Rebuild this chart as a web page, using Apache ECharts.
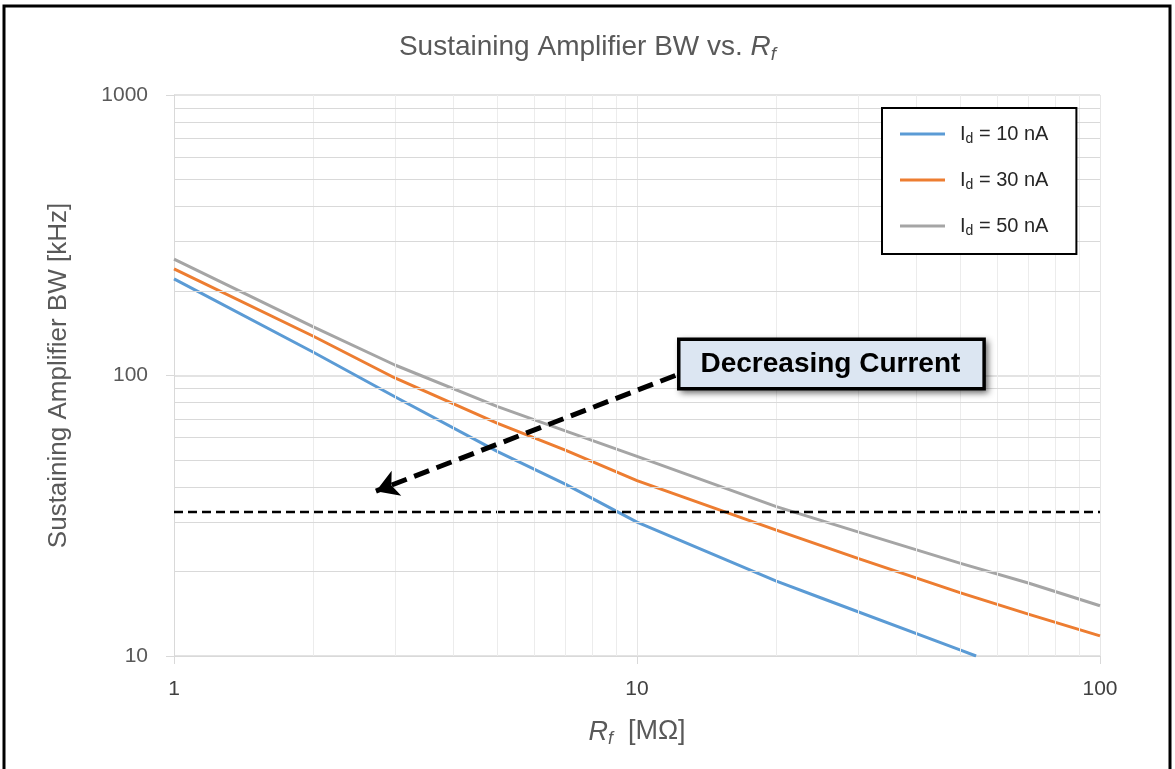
<!DOCTYPE html>
<html lang="en">
<head>
  <meta charset="UTF-8">
  <title>Sustaining Amplifier BW vs. Rf</title>
  <script src="https://cdn.jsdelivr.net/npm/echarts@6/dist/echarts.min.js"></script>
  <style>
    html, body { margin: 0; padding: 0; background: #fff; }
  </style>
</head>
<body>
  <div id="chart" style="width: 1175px; height: 769px"></div>
  <script>
    // Rf in MOhm, bandwidth in kHz
    const rf = [1, 2, 3, 5, 7, 10, 20, 30, 50, 70, 100]
    const rf10 = [1, 2, 3, 5, 7, 10, 20, 25, 50, 54]
    const bw10 = [221, 121, 84, 53.5, 41, 30, 18.5, 16.1, 10.5, 10]
    const bw30 = [240, 138, 98, 67.5, 54.2, 42.2, 28.1, 22.3, 16.8, 14.1, 11.8]
    const bw50 = [260, 149, 109, 77.4, 63.5, 51.5, 34.1, 27.7, 21.4, 18.2, 15.1]
    const limitBw = 32.6
    const seriesNames = ['Id = 10 nA', 'Id = 30 nA', 'Id = 50 nA']
    const xMinor = [2, 3, 4, 5, 6, 7, 8, 9, 20, 30, 40, 50, 60, 70, 80, 90]
    const yMinor = [20, 30, 40, 50, 60, 70, 80, 90, 200, 300, 400, 500, 600, 700, 800, 900]
    // annotation: box anchor and arrow (data coords)
    const boxAt = [26.3, 110]
    const arrowFrom = [12.1, 100]
    const arrowTo = [2.73, 38.7]

    const font = 'Liberation Sans'
    const grey = '#595959'

    let chart = echarts.init(document.querySelector('#chart'))

    const pair = (xs, ys) => xs.map((x, i) => [x, ys[i]])

    let gridLines = []
    xMinor.forEach(v => gridLines.push({ xAxis: v, lineStyle: { color: '#ececec', width: 1, type: 'solid' } }))
    yMinor.forEach(v => gridLines.push({ yAxis: v, lineStyle: { color: '#d9d9d9', width: 1, type: 'solid' } }))

    let lineSeries = (name, data, color) => ({
      name,
      type: 'line',
      data,
      symbol: 'none',
      smooth: false,
      color,
      lineStyle: { width: 3, join: 'round' },
      z: 3
    })

    let option = {
      animation: false,
      textStyle: { fontFamily: font },
      title: {
        text: '{a|Sustaining Amplifier BW vs. }{i|R}{s|f}',
        left: 'center',
        top: 25,
        textStyle: {
          fontWeight: 'normal',
          rich: {
            a: { fontSize: 28, color: grey, fontFamily: font, fontWeight: 'normal' },
            i: { fontSize: 28, color: grey, fontFamily: font, fontStyle: 'italic', fontWeight: 'normal' },
            s: { fontSize: 19, color: grey, fontFamily: font, fontStyle: 'italic', fontWeight: 'normal', padding: [15, 0, 0, 0] }
          }
        }
      },
      legend: {
        orient: 'vertical',
        left: 882,
        top: 108,
        z: 20,
        padding: [16, 28, 16, 18],
        icon: 'rect',
        itemWidth: 45,
        itemHeight: 3,
        itemGap: 24,
        backgroundColor: '#fff',
        borderColor: '#000',
        borderWidth: 2,
        borderRadius: 0,
        data: seriesNames,
        formatter: name => '{f|I}{s|d}{n|' + name.slice(2) + '}',
        textStyle: {
          rich: {
            f: { fontSize: 20, color: '#262626', fontFamily: font, padding: [0, 0, 0, 10] },
            n: { fontSize: 20, color: '#262626', fontFamily: font },
            s: { fontSize: 14, color: '#262626', fontFamily: font, padding: [10, 0, 0, 0] }
          }
        }
      },
      graphic: [
        {
          type: 'rect',
          shape: { x: 4, y: 6, width: 1166, height: 800 },
          style: { fill: 'none', stroke: '#000', lineWidth: 3 },
          silent: true
        }
      ],
      grid: { left: 174, right: 75, top: 95, bottom: 113 },
      xAxis: {
        type: 'log',
        logBase: 10,
        min: 1,
        max: 100,
        name: '{i|R}{s|f}{n|  [MΩ]}',
        nameLocation: 'middle',
        nameGap: 60,
        nameTextStyle: {
          rich: {
            i: { fontSize: 27, color: grey, fontFamily: font, fontStyle: 'italic' },
            s: { fontSize: 18, color: grey, fontFamily: font, fontStyle: 'italic', padding: [14, 0, 0, 0] },
            n: { fontSize: 27, color: grey, fontFamily: font }
          }
        },
        axisLine: { lineStyle: { color: '#d9d9d9', width: 1 } },
        axisTick: { show: true, length: 8, lineStyle: { color: '#d9d9d9' } },
        axisLabel: { fontSize: 21, color: '#404040', margin: 23 },
        splitLine: { show: true, lineStyle: { color: '#e6e6e6', width: 1 } }
      },
      yAxis: {
        type: 'log',
        logBase: 10,
        min: 10,
        max: 1000,
        name: 'Sustaining Amplifier BW [kHz]',
        nameLocation: 'middle',
        nameGap: 102,
        nameRotate: 90,
        nameTextStyle: { fontSize: 26, color: grey, fontFamily: font },
        axisLine: { show: true, lineStyle: { color: '#d9d9d9', width: 1 } },
        axisTick: { show: true, length: 8, lineStyle: { color: '#d9d9d9' } },
        axisLabel: { fontSize: 21, color: grey, margin: 26, formatter: v => String(v) },
        splitLine: { show: true, lineStyle: { color: '#e3e3e3', width: 2 } }
      },
      series: [
        {
          name: 'grid',
          type: 'line',
          data: [],
          z: 0,
          silent: true,
          markLine: {
            silent: true,
            symbol: ['none', 'none'],
            label: { show: false },
            animation: false,
            data: gridLines
          }
        },
        lineSeries(seriesNames[0], pair(rf10, bw10), '#5b9bd5'),
        lineSeries(seriesNames[1], pair(rf, bw30), '#ed7d31'),
        lineSeries(seriesNames[2], pair(rf, bw50), '#a5a5a5'),
        {
          name: 'limit',
          type: 'line',
          data: [[1, limitBw], [100, limitBw]],
          symbol: 'none',
          color: '#000',
          lineStyle: { width: 2.5, type: [9, 5] },
          z: 4,
          markLine: {
            silent: true,
            symbol: ['none', 'arrow'],
            symbolSize: [20, 22],
            label: { show: false },
            lineStyle: { color: '#000', width: 5, type: [16, 8] },
            data: [[{ coord: arrowFrom }, { coord: arrowTo }]]
          },
          markPoint: {
            silent: true,
            symbol: 'rect',
            symbolSize: 0,
            data: [{ coord: boxAt, value: 0 }],
            label: {
              show: true,
              position: 'inside',
              formatter: 'Decreasing Current',
              fontFamily: font,
              fontSize: 28,
              fontWeight: 'bold',
              color: '#000',
              backgroundColor: '#dce6f2',
              borderColor: '#000',
              borderWidth: 3.5,
              padding: [9, 22, 9, 20],
              shadowColor: 'rgba(0,0,0,0.45)',
              shadowBlur: 6,
              shadowOffsetX: 3,
              shadowOffsetY: 3
            }
          }
        }
      ]
    }
    chart.setOption(option)
  </script>
</body>
</html>
